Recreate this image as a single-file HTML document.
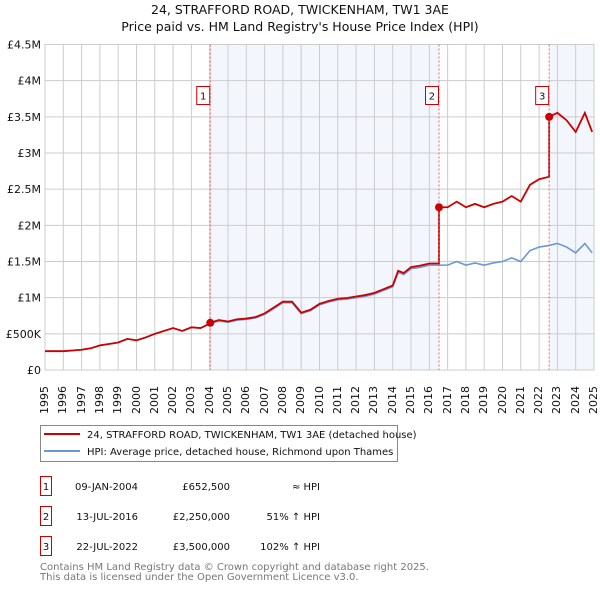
<!DOCTYPE html>
<html><head><meta charset="utf-8"><style>
body{margin:0;background:#fff;font-family:"Liberation Sans","DejaVu Sans",sans-serif;position:relative;width:600px;height:590px;overflow:hidden;}
svg{position:absolute;left:0;top:0;}
svg text{font-family:"DejaVu Sans","Liberation Sans",sans-serif;}
.xt{position:absolute;top:374px;width:14px;height:40px;font-family:"DejaVu Sans","Liberation Sans",sans-serif;font-size:11px;color:#111;writing-mode:vertical-rl;transform:rotate(180deg);text-align:left;line-height:14px;white-space:nowrap;}
</style></head><body>
<svg width="600" height="590" id="chart" xmlns="http://www.w3.org/2000/svg">
<text x="300" y="14" text-anchor="middle" font-size="12.5" fill="#111">24, STRAFFORD ROAD, TWICKENHAM, TW1 3AE</text>
<text x="300" y="31" text-anchor="middle" font-size="12.5" fill="#111">Price paid vs. HM Land Registry's House Price Index (HPI)</text>
<g id="plot"></g>
<g>
<rect x="40.5" y="425.5" width="357" height="36" fill="#fff" stroke="#888"/>
<line x1="44" y1="434" x2="80" y2="434" stroke="#cc0000" stroke-width="2"/>
<text x="87" y="438" font-size="10" fill="#111">24, STRAFFORD ROAD, TWICKENHAM, TW1 3AE (detached house)</text>
<line x1="44" y1="451" x2="80" y2="451" stroke="#6a98d4" stroke-width="2"/>
<text x="87" y="455" font-size="10" fill="#111">HPI: Average price, detached house, Richmond upon Thames</text>
</g>
<g font-size="10" fill="#111">
<rect x="40.5" y="476.5" width="11" height="19" fill="#fff" stroke="#cc0000"/><text x="46" y="490" text-anchor="middle">1</text>
<text x="138" y="490" text-anchor="end">09-JAN-2004</text><text x="230" y="490" text-anchor="end">£652,500</text><text x="320" y="490" text-anchor="end">≈ HPI</text>
<rect x="40.5" y="506.5" width="11" height="19" fill="#fff" stroke="#cc0000"/><text x="46" y="520" text-anchor="middle">2</text>
<text x="138" y="520" text-anchor="end">13-JUL-2016</text><text x="230" y="520" text-anchor="end">£2,250,000</text><text x="320" y="520" text-anchor="end">51% ↑ HPI</text>
<rect x="40.5" y="536.5" width="11" height="19" fill="#fff" stroke="#cc0000"/><text x="46" y="550" text-anchor="middle">3</text>
<text x="138" y="550" text-anchor="end">22-JUL-2022</text><text x="230" y="550" text-anchor="end">£3,500,000</text><text x="320" y="550" text-anchor="end">102% ↑ HPI</text>
</g>
<text x="40" y="570" font-size="10" fill="#777">Contains HM Land Registry data © Crown copyright and database right 2025.</text>
<text x="40" y="580" font-size="10" fill="#777">This data is licensed under the Open Government Licence v3.0.</text>
</svg>
<script>
const hpiYears=[1995,1995.5,1996,1996.5,1997,1997.5,1998,1998.5,1999,1999.5,2000,2000.5,2001,2001.5,2002,2002.5,2003,2003.5,2004,2004.5,2005,2005.5,2006,2006.5,2007,2007.5,2008,2008.5,2009,2009.5,2010,2010.5,2011,2011.5,2012,2012.5,2013,2013.5,2014,2014.3,2014.6,2015,2015.5,2016,2016.5,2017,2017.5,2018,2018.5,2019,2019.5,2020,2020.5,2021,2021.5,2022,2022.5,2023,2023.5,2024,2024.5,2024.9];
const hpiValues=[0.26,0.26,0.26,0.27,0.28,0.3,0.34,0.36,0.38,0.43,0.41,0.45,0.5,0.54,0.58,0.54,0.59,0.58,0.64,0.68,0.66,0.69,0.7,0.72,0.77,0.85,0.93,0.93,0.78,0.82,0.9,0.94,0.97,0.98,1.0,1.02,1.05,1.1,1.15,1.35,1.32,1.4,1.42,1.45,1.45,1.45,1.5,1.45,1.48,1.45,1.48,1.5,1.55,1.5,1.65,1.7,1.72,1.75,1.7,1.62,1.75,1.62];
const saleYears=[2004.03,2016.53,2022.55];
const salePrices=[0.6525,2.25,3.5];
const saleLabels=["1","2","3"];
const yTicks=[0,0.5,1,1.5,2,2.5,3,3.5,4,4.5];
const yTickLabels=["£0","£500K","£1M","£1.5M","£2M","£2.5M","£3M","£3.5M","£4M","£4.5M"];
const xTicks=[1995,1996,1997,1998,1999,2000,2001,2002,2003,2004,2005,2006,2007,2008,2009,2010,2011,2012,2013,2014,2015,2016,2017,2018,2019,2020,2021,2022,2023,2024,2025];

const NS="http://www.w3.org/2000/svg";
const X0=45,X1=594,Y0=370,Y1=44.5;
const xs=v=>X0+(v-1995)/30*(X1-X0);
const ys=v=>Y0-v/4.5*(Y0-Y1);
const g=document.getElementById('plot');
function mk(t,a,p){const e=document.createElementNS(NS,t);for(const k in a)e.setAttribute(k,a[k]);(p||g).appendChild(e);return e;}
let sh=mk('rect',{x:xs(saleYears[0]),y:Y1,width:xs(saleYears[1])-xs(saleYears[0]),height:Y0-Y1,fill:'#eef2fc',opacity:0.7});


let sh2=mk('rect',{x:xs(saleYears[2]),y:Y1,width:X1-xs(saleYears[2]),height:Y0-Y1,fill:'#eef2fc',opacity:0.7});


xTicks.forEach(t=>{mk('line',{x1:xs(t),x2:xs(t),y1:Y1,y2:Y0,stroke:'#ccc','stroke-width':1});
 const d=document.createElement('div');
 d.className='xt';
 d.style.left=(xs(t)-7)+'px';
 d.textContent=String(t);
 
 
 document.body.appendChild(d);});
yTicks.forEach((t,i)=>{mk('line',{x1:X0,x2:X1,y1:ys(t),y2:ys(t),stroke:'#ccc','stroke-width':1});
 const tx=mk('text',{x:X0-4,y:ys(t)+4,'font-size':11,fill:'#111','text-anchor':'end'});tx.textContent=yTickLabels[i];
 
 });
mk('rect',{x:X0,y:Y1,width:X1-X0,height:Y0-Y1,fill:'none',stroke:'#ccc'});
function hpiAt(y){for(let i=0;i<hpiYears.length-1;i++){if(y<=hpiYears[i+1]){const f=(y-hpiYears[i])/(hpiYears[i+1]-hpiYears[i]);return hpiValues[i]+f*(hpiValues[i+1]-hpiValues[i]);}}return hpiValues[hpiValues.length-1];}
const redPts=[];
hpiYears.forEach((y,i)=>{let k=-1;saleYears.forEach((s,j)=>{if(y>=s)k=j;});
 let v=k<0?hpiValues[i]:salePrices[k]*hpiValues[i]/hpiAt(saleYears[k]);redPts.push([y,v]);});
saleYears.forEach((s,j)=>{if(j>0)redPts.push([s-0.001,salePrices[j-1]*hpiAt(s)/hpiAt(saleYears[j-1])]);redPts.push([s,salePrices[j]]);});
redPts.sort((a,b)=>a[0]-b[0]);
const hp=mk('polyline',{points:hpiYears.map((y,i)=>xs(y)+','+ys(hpiValues[i])).join(' '),fill:'none',stroke:'#6a98d4','stroke-width':1.6});


const rp=mk('polyline',{points:redPts.map(p=>xs(p[0])+','+ys(p[1])).join(' '),fill:'none',stroke:'#cc0000','stroke-width':1.8});


saleYears.forEach((s,j)=>{
 const l=mk('line',{x1:xs(s),x2:xs(s),y1:Y1,y2:Y0,stroke:'#f06060','stroke-dasharray':'2,2','stroke-width':1});
 
 
 const c=mk('circle',{cx:xs(s),cy:ys(salePrices[j]),r:4,fill:'#cc0000'});
 
 
 const b=mk('rect',{x:xs(s)-13.5,y:86.5,width:13,height:18,fill:'#fff',stroke:'#cc0000'});
 
 
 const t=mk('text',{x:xs(s)-7,y:99.5,'font-size':10,fill:'#111','text-anchor':'middle'});t.textContent=saleLabels[j];
 
 
});
</script>
</body></html>
